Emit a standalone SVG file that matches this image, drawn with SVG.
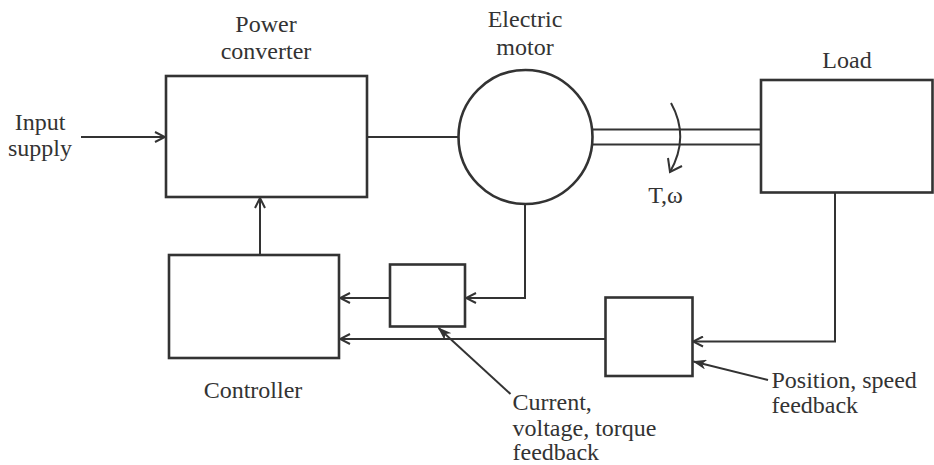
<svg xmlns="http://www.w3.org/2000/svg" width="934" height="465" viewBox="0 0 934 465">
<defs>
<style>
.box{fill:#fff;stroke:#333;stroke-width:2.6}
.ln{fill:none;stroke:#333;stroke-width:2}
text{font-family:'Liberation Serif','Times New Roman','DejaVu Serif',serif;font-size:24px;fill:#333}
</style>
<marker id="open" viewBox="0 0 12 12" refX="11" refY="6" markerWidth="12" markerHeight="12" markerUnits="userSpaceOnUse" orient="auto">
<path d="M1,1 L11,6 L1,11" fill="none" stroke="#333" stroke-width="2"/>
</marker>
<marker id="fill" viewBox="0 0 14 10" refX="13" refY="5" markerWidth="14" markerHeight="10" markerUnits="userSpaceOnUse" orient="auto">
<path d="M0,0 L14,5 L0,10 L4,5 Z" fill="#333"/>
</marker>
</defs>
<rect width="934" height="465" fill="#fff"/>
<g id="connectors">
<line class="ln" x1="81" y1="137" x2="165" y2="137" marker-end="url(#open)"/>
<line class="ln" x1="367" y1="137" x2="458" y2="137"/>
<line class="ln" x1="592" y1="129.5" x2="761" y2="129.5"/>
<line class="ln" x1="592" y1="144.5" x2="761" y2="144.5"/>
<path class="ln" d="M671,103 Q690,137 670,172"/>
<path class="ln" d="M668,158 L670,172 L682,166"/>
<line class="ln" x1="260" y1="255" x2="260" y2="198" marker-end="url(#open)"/>
<polyline class="ln" points="525,204 525,298 466,298" marker-end="url(#open)"/>
<line class="ln" x1="390" y1="298" x2="340" y2="298" marker-end="url(#open)"/>
<polyline class="ln" points="835,193 835,341.5 693,341.5" marker-end="url(#open)"/>
<line class="ln" x1="605" y1="339" x2="340" y2="339" marker-end="url(#open)"/>
<line class="ln" x1="510.5" y1="394" x2="438.5" y2="328" marker-end="url(#fill)"/>
<line class="ln" x1="768" y1="380" x2="693.5" y2="361.5" marker-end="url(#fill)"/>
</g>
<g id="input-supply">
<text x="40" y="130" text-anchor="middle">Input</text>
<text x="40" y="156" text-anchor="middle">supply</text>
</g>
<g id="power-converter">
<rect class="box" x="166" y="76" width="201" height="121"/>
<text x="266" y="32" text-anchor="middle">Power</text>
<text x="266" y="59" text-anchor="middle">converter</text>
</g>
<g id="electric-motor">
<circle class="box" cx="525.5" cy="137" r="67"/>
<text x="525" y="27" text-anchor="middle">Electric</text>
<text x="525" y="55" text-anchor="middle">motor</text>
</g>
<g id="load">
<rect class="box" x="761" y="80" width="171.5" height="112.5"/>
<text x="847" y="68" text-anchor="middle">Load</text>
</g>
<g id="torque-speed">
<text x="665.5" y="203" text-anchor="middle">T,ω</text>
</g>
<g id="controller">
<rect class="box" x="169" y="255" width="170" height="103"/>
<text x="253" y="398" text-anchor="middle">Controller</text>
</g>
<g id="current-sensor">
<rect class="box" x="390" y="264.5" width="75" height="62"/>
</g>
<g id="position-sensor">
<rect class="box" x="605.5" y="297.5" width="87" height="78.5"/>
</g>
<g id="current-label">
<text x="512.5" y="410">Current,</text>
<text x="512.5" y="436">voltage, torque</text>
<text x="512.5" y="460">feedback</text>
</g>
<g id="position-label">
<text x="771.5" y="388">Position, speed</text>
<text x="771.5" y="413">feedback</text>
</g>
</svg>
